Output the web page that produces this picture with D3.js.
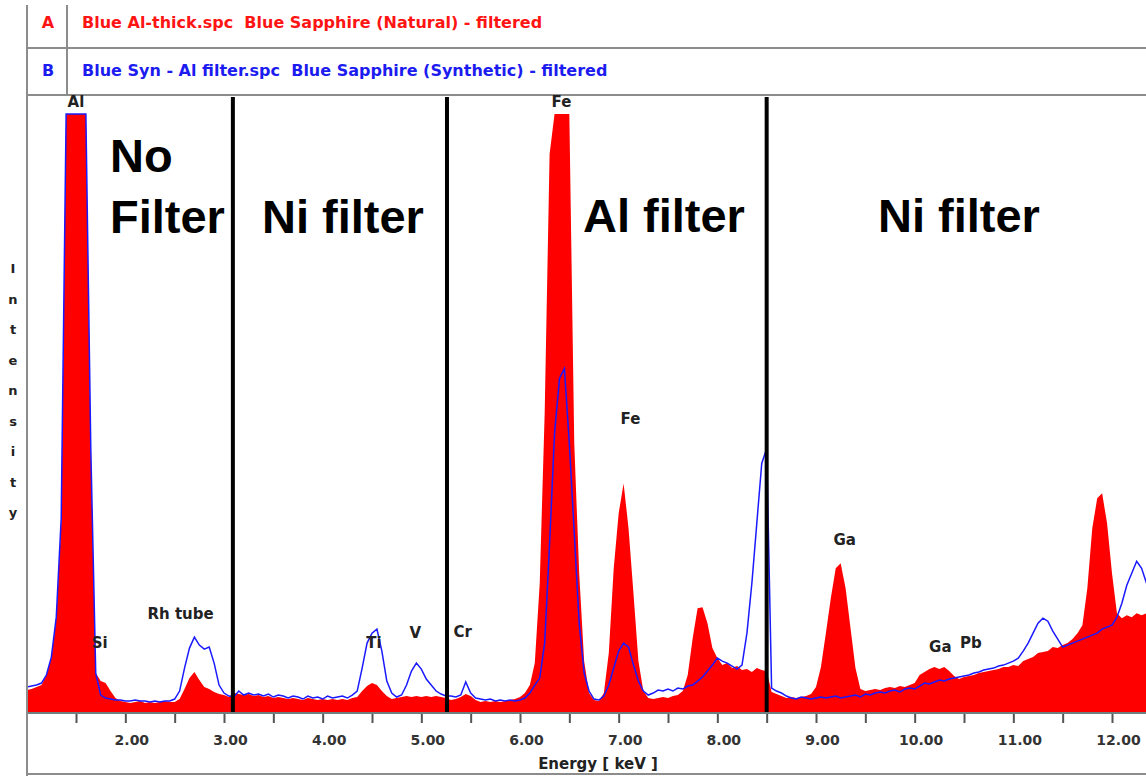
<!DOCTYPE html>
<html>
<head>
<meta charset="utf-8">
<script src="https://cdn.jsdelivr.net/npm/d3@7"></script>
<style>
body { margin: 0; background: #fff; }
svg { display: block; }
text { font-family: "DejaVu Sans", Verdana, sans-serif; font-weight: bold; }
.frame { stroke: #8c8c8c; stroke-width: 2; fill: none; }
.axis .tick line { stroke: #555; stroke-width: 2; }
.axis .tick text { font-size: 14px; fill: #333; }
.peak { font-size: 15px; fill: #222; }
.filter { font-family: "Liberation Sans", Arial, sans-serif; font-size: 47px; fill: #000; }
</style>
</head>
<body>
<div id="chart"></div>
<script>
var width = 1146,
    height = 776;

// channel calibration of the spectra (keV)
var startKeV = 1.0,
    stepKeV = 0.05;

// A - Blue Al-thick.spc, natural sapphire (filled)
var natural = [
    23, 24, 26, 28, 38, 55, 95, 190, 600, 600,
    600, 600, 600, 260, 40, 32, 30, 22, 15, 12,
    11, 10, 11, 12, 10, 11, 10, 11, 12, 11,
    11, 14, 24, 35, 41, 33, 26, 24, 21, 19,
    18, 16, 20, 19, 18, 19, 17, 18, 16, 17,
    15, 16, 15, 14, 15, 14, 13, 15, 14, 13,
    14, 13, 14, 13, 14, 13, 15, 16, 22, 27,
    30, 28, 22, 17, 14, 15, 16, 17, 16, 17,
    16, 17, 16, 17, 16, 15, 13, 14, 16, 19,
    17, 13, 11, 12, 11, 12, 11, 12, 13, 14,
    16, 20, 28, 50, 130, 300, 560, 600, 600, 600,
    600, 270, 140, 52, 20, 13, 12, 20, 60, 145,
    200, 230, 185, 120, 52, 22, 15, 14, 15, 16,
    15, 17, 18, 22, 38, 75, 105, 106, 90, 65,
    55, 48, 50, 45, 47, 43, 44, 41, 45, 43,
    42, 21, 19, 17, 15, 16, 15, 16, 17, 19,
    26, 46, 80, 115, 145, 150, 125, 85, 45, 24,
    22, 23, 24, 23, 25, 26, 25, 27, 26, 28,
    30, 38, 41, 44, 46, 44, 46, 42, 37, 34,
    36, 37, 38, 40, 41, 42, 43, 44, 46, 46,
    48, 47, 52, 54, 56, 60, 61, 62, 66, 65,
    68, 70, 74, 80, 88, 125, 185, 215, 220, 190,
    140, 100, 95, 98, 96, 100, 98, 100
];

// B - Blue Syn - Al filter.spc, synthetic sapphire (line)
var synthetic = [
    26, 27, 28, 30, 38, 56, 96, 195, 600, 600,
    600, 600, 600, 265, 40, 18, 15, 14, 13, 13,
    12, 12, 13, 12, 12, 11, 12, 11, 12, 12,
    14, 22, 45, 65, 76, 68, 64, 66, 50, 28,
    20, 17, 16, 22, 18, 20, 18, 19, 17, 19,
    16, 18, 17, 15, 17, 16, 14, 17, 15, 16,
    14, 17, 15, 16, 17, 15, 18, 22, 45, 70,
    80, 84, 62, 32, 20, 16, 18, 28, 42, 50,
    44, 34, 28, 22, 19, 17, 17, 16, 18, 31,
    20, 15, 14, 13, 14, 12, 13, 12, 13, 12,
    13, 15, 20, 28, 35, 70, 170, 280, 335, 345,
    270, 180, 90, 40, 22, 14, 13, 17, 28, 45,
    62, 70, 66, 48, 32, 22, 18, 20, 23, 22,
    24, 22, 25, 24, 27, 28, 32, 36, 42, 48,
    55, 52, 50, 47, 44, 48, 80, 130, 190, 250,
    265, 25, 22, 20, 17, 15, 14, 16, 15, 14,
    15, 16, 15, 16, 17, 15, 16, 17, 18, 16,
    19, 18, 20, 21, 20, 22, 23, 21, 24, 25,
    24, 27, 30, 29, 31, 33, 32, 34, 35, 36,
    37, 38, 40, 41, 43, 44, 45, 47, 48, 50,
    52, 55, 62, 70, 80, 90, 95, 92, 82, 74,
    66, 68, 70, 72, 74, 76, 78, 80, 84, 86,
    88, 96, 110, 128, 140, 152, 145, 130
];

var tickKeV = [1.5, 2, 2.5, 3, 3.5, 4, 4.5, 5, 5.5, 6, 6.5, 7, 7.5, 8, 8.5, 9, 9.5, 10, 10.5, 11, 11.5, 12];
var filterEdges = [3.09, 5.26, 8.50];

var peakNames = ["Al", "Si", "Rh tube", "Ti", "V", "Cr", "Fe", "Fe", "Ga", "Ga", "Pb"];
var peakKeV = [1.50, 1.74, 2.56, 4.52, 4.94, 5.42, 6.42, 7.12, 9.29, 10.26, 10.57];
var peakCounts = [607, 65, 94, 65, 75, 76, 607, 289, 168, 61, 65];

var legendKeys = ["A", "B"];
var legendNames = [
    "Blue Al-thick.spc  Blue Sapphire (Natural) - filtered",
    "Blue Syn - Al filter.spc  Blue Sapphire (Synthetic) - filtered"
];
var legendColors = ["#ff1414", "#1c1cf0"];

var spectrum = natural.map(function (d, i) {
    return {keV: startKeV + i * stepKeV, a: d, b: synthetic[i]};
});

var x = d3.scaleLinear()
    .domain([3, 12])
    .range([224, 1112]);

var y = d3.scaleLinear()
    .domain([0, 600])
    .range([713, 114]);

var svg = d3.select("#chart").append("svg")
    .attr("width", width)
    .attr("height", height);

svg.append("clipPath")
    .attr("id", "plot-clip")
    .append("rect")
    .attr("x", 28)
    .attr("y", 95)
    .attr("width", width - 28)
    .attr("height", 618);

// header with the two spectrum files
legendKeys.forEach(function (k, i) {
    var base = 28 + i * 48;
    svg.append("text")
        .attr("x", 48)
        .attr("y", base)
        .attr("text-anchor", "middle")
        .style("font-size", "16px")
        .attr("fill", legendColors[i])
        .text(k);
    svg.append("text")
        .attr("x", 82)
        .attr("y", base)
        .style("font-size", "16px")
        .style("white-space", "pre")
        .attr("fill", legendColors[i])
        .text(legendNames[i]);
});

var frame = svg.append("g").attr("class", "frame");
frame.append("line").attr("x1", 27).attr("x2", 27).attr("y1", 5).attr("y2", height);
frame.append("line").attr("x1", 67).attr("x2", 67).attr("y1", 5).attr("y2", 95);
frame.append("line").attr("x1", 27).attr("x2", width).attr("y1", 48).attr("y2", 48);
frame.append("line").attr("x1", 27).attr("x2", width).attr("y1", 95).attr("y2", 95);
frame.append("line").attr("x1", 27).attr("x2", width).attr("y1", 774).attr("y2", 774);

var plot = svg.append("g")
    .attr("clip-path", "url(#plot-clip)");

var area = d3.area()
    .x(function (d) { return x(d.keV); })
    .y0(y(0))
    .y1(function (d) { return y(d.a); });

var line = d3.line()
    .x(function (d) { return x(d.keV); })
    .y(function (d) { return y(d.b); });

plot.append("path")
    .datum(spectrum)
    .attr("fill", "#ff0000")
    .attr("d", area);

// element labels
peakNames.forEach(function (name, i) {
    svg.append("text")
        .attr("class", "peak")
        .attr("x", x(peakKeV[i]))
        .attr("y", y(peakCounts[i]))
        .attr("text-anchor", "middle")
        .text(name);
});

plot.append("path")
    .datum(spectrum)
    .attr("fill", "none")
    .attr("stroke", "#1a1aff")
    .attr("stroke-width", 1.5)
    .attr("d", line);

// filter boundaries
svg.selectAll(".edge")
    .data(filterEdges)
    .enter().append("line")
    .attr("class", "edge")
    .attr("x1", function (d) { return x(d); })
    .attr("x2", function (d) { return x(d); })
    .attr("y1", 97)
    .attr("y2", 713)
    .attr("stroke", "#000")
    .attr("stroke-width", 4);

filterLabel(110, 172, "No");
filterLabel(110, 233, "Filter");
filterLabel(262, 233, "Ni filter");
filterLabel(583, 232, "Al filter");
filterLabel(878, 232, "Ni filter");

// energy axis
var axis = svg.append("g")
    .attr("class", "axis")
    .attr("transform", "translate(0," + 713 + ")")
    .call(d3.axisBottom(x)
        .tickValues(tickKeV)
        .tickSize(10)
        .tickPadding(12)
        .tickFormat(function (d) { return d % 1 === 0 ? d.toFixed(2) : ""; }));
axis.select(".domain").remove();
axis.selectAll(".tick text").attr("dx", 6);

svg.append("line")
    .attr("x1", 28)
    .attr("x2", width)
    .attr("y1", 713)
    .attr("y2", 713)
    .attr("stroke", "#6f7f7f")
    .attr("stroke-width", 2);

svg.append("text")
    .attr("x", 598)
    .attr("y", 769)
    .attr("text-anchor", "middle")
    .style("font-size", "15px")
    .attr("fill", "#222")
    .style("white-space", "pre")
    .text("Energy [ keV ]");

// vertical "Intensity" title, one letter per row
"Intensity".split("").forEach(function (c, i) {
    svg.append("text")
        .attr("x", 13)
        .attr("y", 273 + i * 30.5)
        .attr("text-anchor", "middle")
        .style("font-size", "13px")
        .attr("fill", "#222")
        .text(c);
});

function filterLabel(px, py, text) {
    svg.append("text")
        .attr("class", "filter")
        .attr("x", px)
        .attr("y", py)
        .text(text);
}
</script>
</body>
</html>
